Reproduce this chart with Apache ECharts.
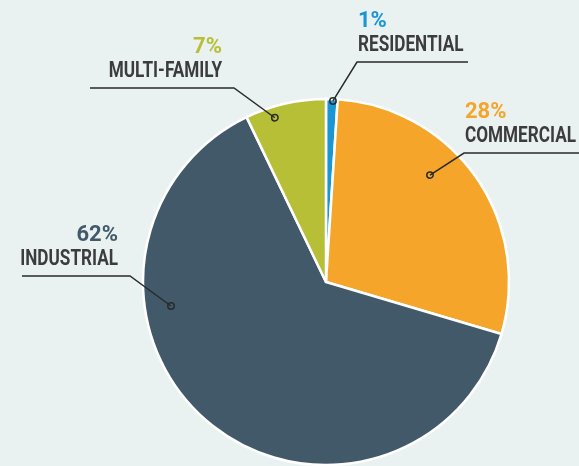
<!DOCTYPE html>
<html>
<head>
<meta charset="utf-8">
<script src="https://cdn.jsdelivr.net/npm/echarts@6/dist/echarts.min.js"></script>
<style>
  html, body { margin: 0; padding: 0; background: #eaf2f1; }
  #container { width: 579px; height: 466px; }
</style>
</head>
<body>
<div id="container"></div>
<script>
// data
var categories = ['RESIDENTIAL', 'COMMERCIAL', 'INDUSTRIAL', 'MULTI-FAMILY'];
var shares = [1, 28, 62, 7];
var sliceColors = ['#1a96d4', '#f4a52a', '#42596a', '#b6bf36'];

// callout placement: dot angle (from top, clockwise), dot radius fraction, elbow, end of line
var labelSpots = [
    { angle: 2.2, r: 0.99, elbow: [357, 62], end: 468, side: 'left' },
    { angle: 44.2, r: 0.815, elbow: [464, 153], end: 579, side: 'left' },
    { angle: 261.2, r: 0.857, elbow: [130, 276], end: 22, side: 'right' },
    { angle: 342.7, r: 0.94, elbow: [234, 88], end: 90, side: 'right' }
];

var cx = 326, cy = 282, R = 183;
var nameFont = 'bold 22px Roboto';
var pctFont = 'bold 22px Roboto';

var pieData = categories.map(function (name, i) {
    return {
        name: name,
        value: shares[i],
        itemStyle: { color: sliceColors[i] }
    };
});

var calloutData = labelSpots.map(function (s, i) {
    return [s.r, s.angle, i];
});

function renderCallout(params, api) {
    var i = api.value(2);
    var s = labelSpots[i];
    var p = api.coord([api.value(0), api.value(1)]);
    var tx = s.side === 'left' ? s.elbow[0] + 1 : s.elbow[0] - 12;
    var lineY = s.elbow[1];
    return {
        type: 'group',
        children: [{
            type: 'polyline',
            shape: { points: [p, s.elbow, [s.end, lineY]] },
            style: { stroke: '#2a2a2a', lineWidth: 1.5, fill: null }
        }, {
            type: 'circle',
            shape: { cx: p[0], cy: p[1], r: 3.2 },
            style: { fill: 'rgba(0,0,0,0)', stroke: '#2a2a2a', lineWidth: 1.5 }
        }, {
            type: 'text',
            x: tx,
            y: lineY - 17,
            scaleX: 0.78,
            style: {
                text: categories[i],
                font: nameFont,
                fill: '#3c3c3e',
                align: s.side,
                verticalAlign: 'middle'
            }
        }, {
            type: 'text',
            x: tx,
            y: lineY - 41,
            scaleX: 1.0,
            style: {
                text: shares[i] + '%',
                font: pctFont,
                fill: sliceColors[i],
                align: s.side,
                verticalAlign: 'middle'
            }
        }]
    };
}

var dom = document.getElementById('container');
var myChart = echarts.init(dom);

var option = {
    backgroundColor: '#eaf2f1',
    animation: false,
    polar: {
        center: [cx, cy],
        radius: R
    },
    angleAxis: {
        type: 'value',
        min: 0,
        max: 360,
        startAngle: 90,
        clockwise: true,
        show: false
    },
    radiusAxis: {
        type: 'value',
        min: 0,
        max: 1,
        show: false
    },
    series: [{
        type: 'pie',
        center: [cx, cy],
        radius: R,
        startAngle: 90,
        data: pieData,
        itemStyle: {
            borderColor: '#ffffff',
            borderWidth: 2.5
        },
        label: { show: false },
        labelLine: { show: false },
        silent: true,
        z: 2
    }, {
        type: 'custom',
        coordinateSystem: 'polar',
        data: calloutData,
        renderItem: renderCallout,
        silent: true,
        z: 5
    }]
};

myChart.setOption(option);
</script>
</body>
</html>
